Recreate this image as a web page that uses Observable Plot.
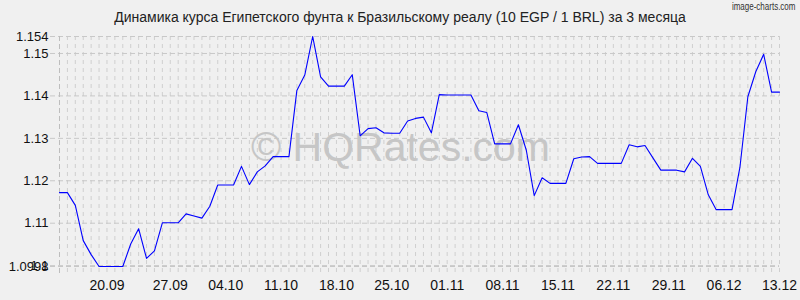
<!DOCTYPE html>
<html>
<head>
<meta charset="utf-8">
<script src="https://cdn.jsdelivr.net/npm/d3@7"></script>
<script src="https://cdn.jsdelivr.net/npm/@observablehq/plot@0.6"></script>
<style>
  html, body { margin: 0; padding: 0; background: #f0f0f0; }
  #wrap { position: relative; width: 800px; height: 300px; overflow: hidden; background: #f0f0f0; font-family: "Liberation Sans", Arial, sans-serif; }
  #title { position: absolute; top: 9px; left: 0; width: 800px; text-align: center; font-size: 14px; line-height: 17px; color: #222; }
  #credit { position: absolute; top: 1px; right: 5px; font-size: 10px; color: #333; transform: scaleX(0.8); transform-origin: right top; }
  #chart { position: absolute; top: 0; left: 0; }
  #chart [aria-label^="x-axis"] { font-size: 14px; }
</style>
</head>
<body>
<div id="wrap">
  <div id="chart"></div>
  <div id="title">Динамика курса Египетского фунта к Бразильскому реалу (10 EGP / 1 BRL) за 3 месяца</div>
  <div id="credit">image-charts.com</div>
</div>
<script>
const values = [
  1.1172, 1.1172, 1.1142, 1.1059, 1.1026, 1.0998, 1.0998, 1.0998, 1.0998, 1.1051,
  1.1087, 1.1017, 1.1035, 1.1101, 1.1101, 1.1101, 1.1122, 1.1117, 1.1112, 1.1140,
  1.1190, 1.1190, 1.1190, 1.1234, 1.1191, 1.1221, 1.1235, 1.1257, 1.1257, 1.1257,
  1.1413, 1.1449, 1.1540, 1.1445, 1.1423, 1.1423, 1.1423, 1.1450, 1.1306, 1.1323,
  1.1325, 1.1313, 1.1312, 1.1312, 1.1341, 1.1347, 1.1350, 1.1313, 1.1403, 1.1402,
  1.1402, 1.1402, 1.1402, 1.1365, 1.1361, 1.1287, 1.1287, 1.1287, 1.1332, 1.1272,
  1.1165, 1.1207, 1.1194, 1.1194, 1.1194, 1.1252, 1.1256, 1.1257, 1.1241, 1.1241,
  1.1241, 1.1241, 1.1285, 1.1280, 1.1283, 1.1254, 1.1225, 1.1225, 1.1225, 1.1221,
  1.1253, 1.1234, 1.1167, 1.1132, 1.1132, 1.1132, 1.1232, 1.1398, 1.1457, 1.1498,
  1.1409, 1.1409
];
const tickIndex = [6, 14, 21, 28, 35, 42, 49, 56, 63, 70, 77, 84, 91];
const tickLabels = ["20.09", "27.09", "04.10", "11.10", "18.10", "25.10", "01.11", "08.11", "15.11", "22.11", "29.11", "06.12", "13.12"];
const yTicks = [1.0998, 1.1, 1.11, 1.12, 1.13, 1.14, 1.15, 1.154];
const yTickLabels = ["1.0998", "1.1", "1.11", "1.12", "1.13", "1.14", "1.15", "1.154"];
const watermark = ["© HQRates.com"];

const idx = values.map((_, i) => i);

const chart = Plot.plot({
  width: 800,
  height: 300,
  marginLeft: 59,
  marginRight: 21,
  marginTop: 36,
  marginBottom: 34,
  style: { background: "#f0f0f0", fontSize: "13px", fontFamily: "'Liberation Sans', Arial, sans-serif", color: "#111" },
  x: { domain: [0, values.length - 1], ticks: tickIndex, tickFormat: d => tickLabels[tickIndex.indexOf(d)], tickSize: 0, tickPadding: 14, label: null },
  y: { domain: d3.extent(values), ticks: yTicks, tickFormat: d => yTickLabels[yTicks.indexOf(d)], tickSize: 0, tickPadding: 11, label: null },
  marks: [
    Plot.ruleX(idx, { x: d => d, stroke: "#cfcfcf", strokeDasharray: "4,4", insetBottom: -8 }),
    Plot.ruleY(yTicks, { y: d => d, stroke: "#c8c8c8", strokeDasharray: "5,3", insetLeft: -9 }),
    Plot.ruleX([0], { x: d => d, stroke: "#bdbdbd", strokeDasharray: "5,3", insetBottom: -8 }),
    Plot.text(watermark, { frameAnchor: "middle", text: d => d, dx: -19, dy: -4, fontSize: 41, fill: "#c6c6c6", fontFamily: "'Liberation Sans', Arial, sans-serif" }),
    Plot.line(values, { x: (d, i) => i, y: d => d, stroke: "#0000ff", strokeWidth: 1.1 })
  ]
});
document.getElementById("chart").appendChild(chart);
</script>
</body>
</html>
